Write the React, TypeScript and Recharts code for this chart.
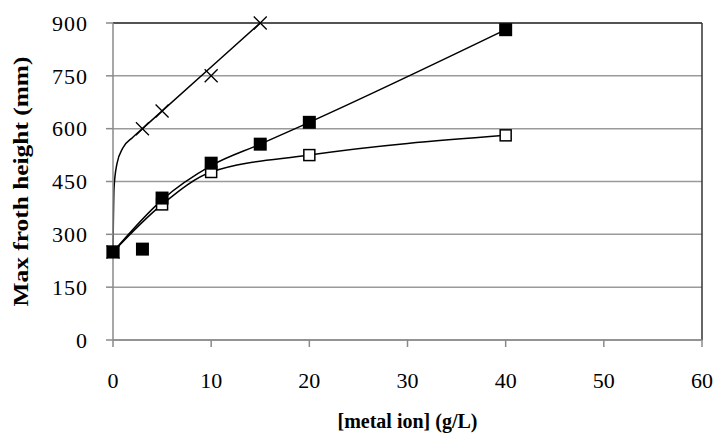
import { LineChart, Line, XAxis, YAxis, CartesianGrid, ReferenceLine } from "recharts";

// measured points
const crossX = [0, 3, 5, 10, 15];
const crossY = [250, 600, 650, 750, 900];
const filledX = [0, 3, 5, 10, 15, 20, 40];
const filledY = [250, 258, 403, 502, 556, 618, 881];
const openX = [0, 5, 10, 20, 40];
const openY = [250, 385, 477, 525, 581];

// trend curves
const crossFitX = [0, 0.1, 0.4, 1, 2, 3, 15];
const crossFitY = [250, 430, 500, 545, 575, 600, 900];
const filledFitX = [0, 5, 10, 15, 20, 40];
const filledFitY = [250, 398, 495, 556, 618, 881];

const xTicks = [0, 10, 20, 30, 40, 50, 60];
const yTicks = [0, 150, 300, 450, 600, 750, 900];

const toRows = (xs: number[], ys: number[]) => xs.map((x, i) => ({ x, y: ys[i] }));

const crossData = toRows(crossX, crossY);
const filledData = toRows(filledX, filledY);
const openData = toRows(openX, openY);
const crossFit = toRows(crossFitX, crossFitY);
const filledFit = toRows(filledFitX, filledFitY);

const font = "Liberation Serif";

const Cross = (p: any) => {
  const { cx, cy, index } = p;
  const s = 6.5;
  return (
    <path
      key={`c${index}`}
      d={`M${cx - s},${cy - s}L${cx + s},${cy + s}M${cx - s},${cy + s}L${cx + s},${cy - s}`}
      stroke="#000"
      strokeWidth={1.3}
      fill="none"
    />
  );
};

const FilledSq = (p: any) => {
  const { cx, cy, index } = p;
  return <rect key={`f${index}`} x={cx - 6.5} y={cy - 6.5} width={13} height={13} fill="#000" />;
};

const OpenSq = (p: any) => {
  const { cx, cy, index } = p;
  return (
    <rect key={`o${index}`} x={cx - 5.5} y={cy - 5.5} width={11} height={11} fill="#fff" stroke="#000" strokeWidth={1.5} />
  );
};

// y title is stretched along its length in the source image
const YTitle = (props: any) => {
  const vb = props.viewBox || {};
  const cx = 21;
  const cy = (vb.y ?? 23) + (vb.height ?? 317) / 2;
  return (
    <text
      x={cx}
      y={cy}
      transform={`rotate(-90 ${cx} ${cy})`}
      textAnchor="middle"
      dominantBaseline="central"
      textLength={250}
      lengthAdjust="spacingAndGlyphs"
      fill="#000"
      fontSize={20}
      fontWeight="bold"
      fontFamily={font}
    >
      Max froth height (mm)
    </text>
  );
};

export default function App() {
  return (
    <div style={{ position: "absolute", left: 0, top: 0, background: "#fff" }}>
      <LineChart width={716} height={437} margin={{ top: 23, right: 14, bottom: 0, left: 0 }}>
        <CartesianGrid vertical={false} stroke="#9a9a9a" strokeWidth={1.5} />
        <XAxis
          type="number"
          dataKey="x"
          domain={[0, 60]}
          ticks={xTicks}
          allowDuplicatedCategory={false}
          height={97}
          stroke="#8a8a8a"
          strokeWidth={1.5}
          tickSize={7}
          tickMargin={25}
          tick={{ fill: "#000", fontSize: 22, fontFamily: font }}
          label={{
            value: "[metal ion] (g/L)",
            position: "insideBottom",
            offset: 9,
            style: { fill: "#000", fontSize: 20, fontWeight: "bold", fontFamily: font },
          }}
        />
        <YAxis
          type="number"
          domain={[0, 900]}
          ticks={yTicks}
          width={113}
          stroke="#8a8a8a"
          strokeWidth={1.5}
          tickSize={7}
          tickMargin={18}
          tick={{ fill: "#000", fontSize: 22, fontFamily: font, letterSpacing: 1 }}
          label={YTitle}
        />
        <ReferenceLine y={900} stroke="#333" strokeWidth={1.5} />
        <ReferenceLine x={60} stroke="#333" strokeWidth={1.5} />

        <Line data={crossFit} dataKey="y" type="monotone" stroke="#000" strokeWidth={1.5} dot={false} activeDot={false} isAnimationActive={false} />
        <Line data={filledFit} dataKey="y" type="monotone" stroke="#000" strokeWidth={1.5} dot={false} activeDot={false} isAnimationActive={false} />
        <Line data={openData} dataKey="y" type="monotone" stroke="#000" strokeWidth={1.5} dot={false} activeDot={false} isAnimationActive={false} />

        <Line data={crossData} dataKey="y" stroke="none" dot={Cross} activeDot={false} isAnimationActive={false} />
        <Line data={openData} dataKey="y" stroke="none" dot={OpenSq} activeDot={false} isAnimationActive={false} />
        <Line data={filledData} dataKey="y" stroke="none" dot={FilledSq} activeDot={false} isAnimationActive={false} />
      </LineChart>
    </div>
  );
}
